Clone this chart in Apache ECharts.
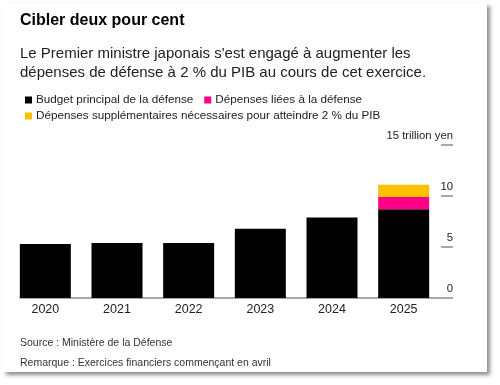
<!DOCTYPE html>
<html>
<head>
<meta charset="utf-8">
<script src="https://cdn.jsdelivr.net/npm/echarts@6/dist/echarts.min.js"></script>
<style>
  html, body { margin: 0; padding: 0; background: #ffffff; }
  #card { position: absolute; left: 3px; top: 3px; width: 484px; height: 369px; background: #fff;
          box-shadow: 3px 3px 4px rgba(0,0,0,0.45); }
  #chart { position: absolute; left: 0; top: 0; width: 500px; height: 385px; }
</style>
</head>
<body>
<div id="card"></div>
<div id="chart"></div>
<script>
const years = ['2020', '2021', '2022', '2023', '2024', '2025'];
const mainBudget = [5.3, 5.4, 5.4, 6.8, 7.9, 8.7];
const relatedSpending = [null, null, null, null, null, 1.2];
const extraSpending = [null, null, null, null, null, 1.2];
const yTicks = [0, 5, 10, 15];
const seriesNames = ['Budget principal de la défense', 'Dépenses liées à la défense',
  'Dépenses supplémentaires nécessaires pour atteindre 2 % du PIB'];
const colors = ['#000000', '#ff0088', '#ffc000'];

const font = '"Liberation Sans", Arial, Helvetica, sans-serif';
const chart = echarts.init(document.getElementById('chart'), null, { renderer: 'canvas' });
chart.setOption({
  backgroundColor: 'transparent',
  animation: false,
  textStyle: { fontFamily: font },
  title: [
    { text: 'Cibler deux pour cent', left: 20, top: 13, padding: 0,
      textStyle: { fontFamily: font, fontSize: 16, fontWeight: 'bold', color: '#000' } },
    { text: "Le Premier ministre japonais s'est engagé à augmenter les\ndépenses de défense à 2 % du PIB au cours de cet exercice.",
      left: 20, top: 44, padding: 0,
      textStyle: { fontFamily: font, fontSize: 15, fontWeight: 'normal', color: '#222', lineHeight: 19 } },
    { text: 'Source : Ministère de la Défense', left: 20, top: 338, padding: 0,
      textStyle: { fontFamily: font, fontSize: 10.5, fontWeight: 'normal', color: '#333' } },
    { text: 'Remarque : Exercices financiers commençant en avril', left: 20, top: 358, padding: 0,
      textStyle: { fontFamily: font, fontSize: 10.5, fontWeight: 'normal', color: '#333' } }
  ],
  legend: [
    { data: [seriesNames[0], seriesNames[1]], left: 25, top: 94, padding: 0, icon: 'rect', itemWidth: 7, itemHeight: 7,
      itemGap: 11, selectedMode: false,
      textStyle: { fontFamily: font, fontSize: 11.7, color: '#222', padding: [0, 0, 0, -1] } },
    { data: [seriesNames[2]], left: 25, top: 110, padding: 0, icon: 'rect', itemWidth: 7, itemHeight: 7,
      selectedMode: false,
      textStyle: { fontFamily: font, fontSize: 11.7, color: '#222', padding: [0, 0, 0, -1] } }
  ],
  grid: [
    { left: 9.5, width: 430, top: 145, height: 153 },
    { left: 20, width: 421, top: 145, height: 153 },
    { left: 441, width: 12, top: 145, height: 153 }
  ],
  xAxis: [
    { type: 'category', gridIndex: 0, data: years,
      axisLine: { show: false }, axisTick: { show: false },
      axisLabel: { fontFamily: font, fontSize: 12.5, color: '#222', margin: 5 } },
    { type: 'value', gridIndex: 1, min: 0, max: 1,
      axisLine: { show: true, onZero: false, lineStyle: { color: '#8c8c8c', width: 1.5 } },
      axisTick: { show: false }, axisLabel: { show: false }, splitLine: { show: false } },
    { type: 'value', gridIndex: 2, min: 0, max: 1, show: false }
  ],
  yAxis: [
    { type: 'value', gridIndex: 0, min: 0, max: 15, interval: 5, show: false },
    { type: 'value', gridIndex: 1, min: 0, max: 15, interval: 5, show: false },
    { type: 'value', gridIndex: 2, position: 'right', min: 0, max: 15, interval: 5,
      axisLine: { show: false }, axisTick: { show: false },
      splitLine: { show: true, lineStyle: { color: '#8c8c8c', width: 1.5 } },
      axisLabel: { margin: 0, align: 'right', verticalAlign: 'bottom',
        padding: [0, 0, 4, 0], fontFamily: font, fontSize: 11.3, color: '#222',
        formatter: v => v === yTicks[3] ? v + ' trillion yen' : String(v) } }
  ],
  series: [
    { name: seriesNames[0], type: 'bar', stack: 'total', data: mainBudget, barWidth: 51,
      itemStyle: { color: colors[0] }, xAxisIndex: 0, yAxisIndex: 0 },
    { name: seriesNames[1], type: 'bar', stack: 'total', data: relatedSpending, barWidth: 51,
      itemStyle: { color: colors[1] }, xAxisIndex: 0, yAxisIndex: 0 },
    { name: seriesNames[2], type: 'bar', stack: 'total', data: extraSpending, barWidth: 51,
      itemStyle: { color: colors[2] }, xAxisIndex: 0, yAxisIndex: 0 }
  ]
});
</script>
</body>
</html>
